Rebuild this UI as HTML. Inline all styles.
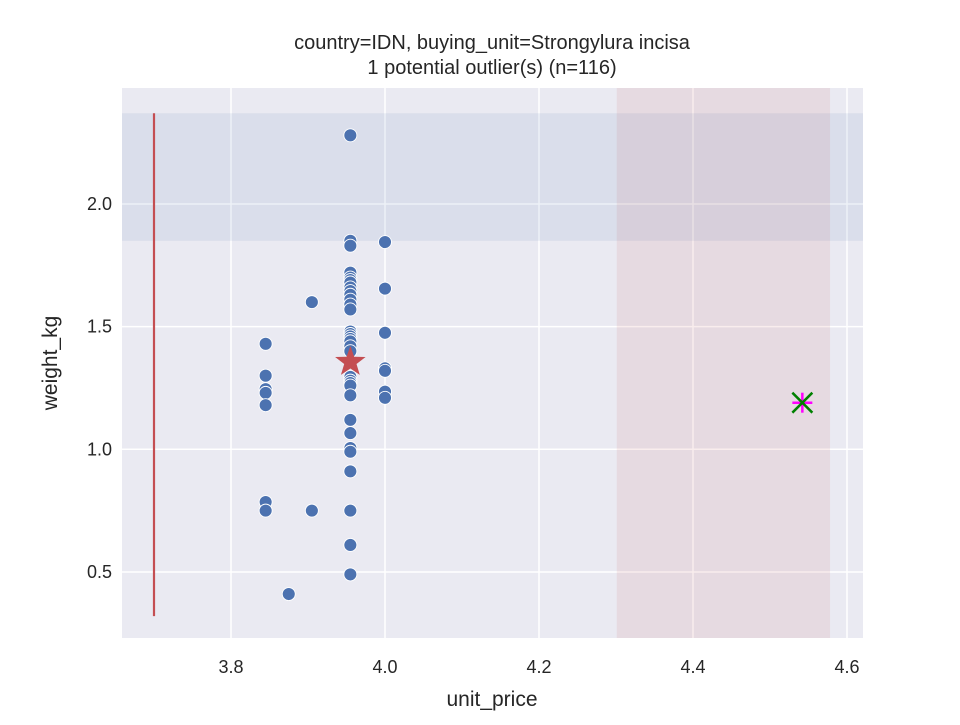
<!DOCTYPE html>
<html><head><meta charset="utf-8"><style>
body{margin:0;background:#fff;}
svg text{font-family:"Liberation Sans",sans-serif;fill:#262626;}
</style></head><body>
<svg id="chart" width="960" height="720" xmlns="http://www.w3.org/2000/svg">
<text x="492" y="49" font-size="20" text-anchor="middle">country=IDN, buying_unit=Strongylura incisa</text>
<text x="492" y="74" font-size="20" text-anchor="middle">1 potential outlier(s) (n=116)</text>
<rect x="122" y="88" width="741" height="550" fill="#eaeaf2"/>
<g id="grid"></g>
<g id="bands"></g>
<g id="marks"></g>
<g id="axes"></g>
<text x="492" y="706" font-size="21" text-anchor="middle">unit_price</text>
<text x="0" y="0" font-size="21" text-anchor="middle" transform="translate(57,363) rotate(-90)">weight_kg</text>
</svg>
<script>
const xTicks=[3.8,4.0,4.2,4.4,4.6];
const xTickLabels=["3.8","4.0","4.2","4.4","4.6"];
const yTicks=[0.5,1.0,1.5,2.0];
const yTickLabels=["0.5","1.0","1.5","2.0"];
const pointsX=[3.955,3.955,3.955,3.955,3.955,3.955,3.955,3.955,3.955,3.955,3.955,3.955,3.955,3.955,3.955,3.955,3.955,3.955,3.955,3.955,3.955,3.955,3.955,3.955,3.955,3.955,3.955,3.955,3.955,3.955,3.955,3.955,3.955,
3.845,3.845,3.845,3.845,3.845,3.845,3.845,3.905,3.905,3.875,4.0,4.0,4.0,4.0,4.0,4.0,4.0];
const pointsY=[2.28,1.85,1.83,1.72,1.70,1.69,1.68,1.66,1.645,1.63,1.61,1.59,1.57,1.48,1.47,1.46,1.45,1.44,1.42,1.40,1.295,1.28,1.27,1.26,1.22,1.12,1.066,1.005,0.99,0.91,0.75,0.61,0.49,
1.43,1.30,1.245,1.23,1.18,0.785,0.75,1.60,0.75,0.41,1.845,1.655,1.475,1.33,1.32,1.235,1.21];
const centerX=[3.955];const centerY=[1.356];
const outlierX=[4.542];const outlierY=[1.19];
const rangeLineX=[3.7];const rangeLineY=[0.32,2.37];
const hBand=[1.85,2.37];const vBand=[4.301,4.578];
const X=v=>231+(v-3.8)*770;
const Y=v=>204-(v-2.0)*245.3;
const NS="http://www.w3.org/2000/svg";
function mk(t,a,p){const e=document.createElementNS(NS,t);for(const k in a)e.setAttribute(k,a[k]);p.appendChild(e);return e;}
const grid=document.getElementById('grid'),bands=document.getElementById('bands'),marks=document.getElementById('marks'),axes=document.getElementById('axes');
xTicks.forEach((t,i)=>{const l=mk('line',{x1:X(t),x2:X(t),y1:88,y2:638,stroke:'#fff','stroke-width':1.5},grid);

const tx=mk('text',{x:X(t),y:673,'font-size':18,'text-anchor':'middle'},axes);tx.textContent=xTickLabels[i];
});
yTicks.forEach((t,i)=>{const l=mk('line',{x1:122,x2:863,y1:Y(t),y2:Y(t),stroke:'#fff','stroke-width':1.5},grid);

const tx=mk('text',{x:112,y:Y(t)+6,'font-size':18,'text-anchor':'end'},axes);tx.textContent=yTickLabels[i];
});
const hb=mk('rect',{x:122,width:741,y:Y(hBand[1]),height:Y(hBand[0])-Y(hBand[1]),fill:'rgba(76,114,176,0.1)'},bands);

const vb=mk('rect',{x:X(vBand[0]),width:X(vBand[1])-X(vBand[0]),y:88,height:550,fill:'rgba(196,78,82,0.1)'},bands);

const rl=mk('line',{x1:X(rangeLineX[0]),x2:X(rangeLineX[0]),y1:Y(rangeLineY[0]),y2:Y(rangeLineY[1]),stroke:'#c44e52','stroke-width':2.2},marks);

pointsX.forEach((v,i)=>{const c=mk('circle',{cx:X(v),cy:Y(pointsY[i]),r:6.5,fill:'#4c72b0',stroke:'#fff','stroke-width':0.9},marks);
});
centerX.forEach((v,i)=>{const cx=X(v),cy=Y(centerY[i]);let pts=[];for(let k=0;k<10;k++){const r=k%2?6.5:16,a=-Math.PI/2+k*Math.PI/5;pts.push((cx+r*Math.cos(a)).toFixed(1)+','+(cy+r*Math.sin(a)).toFixed(1));}
const s=mk('polygon',{points:pts.join(' '),fill:'#c44e52'},marks);
});
outlierX.forEach((v,i)=>{const cx=X(v),cy=Y(outlierY[i]);const g=mk('g',{},marks);

mk('line',{x1:cx-10,x2:cx+10,y1:cy,y2:cy,stroke:'#ff00ff','stroke-width':2.5},g);
mk('line',{x1:cx,x2:cx,y1:cy-10,y2:cy+10,stroke:'#ff00ff','stroke-width':2.5},g);
mk('line',{x1:cx-10,x2:cx+10,y1:cy-10,y2:cy+10,stroke:'#008000','stroke-width':2.5},g);
mk('line',{x1:cx-10,x2:cx+10,y1:cy+10,y2:cy-10,stroke:'#008000','stroke-width':2.5},g);});
</script>
</body></html>
